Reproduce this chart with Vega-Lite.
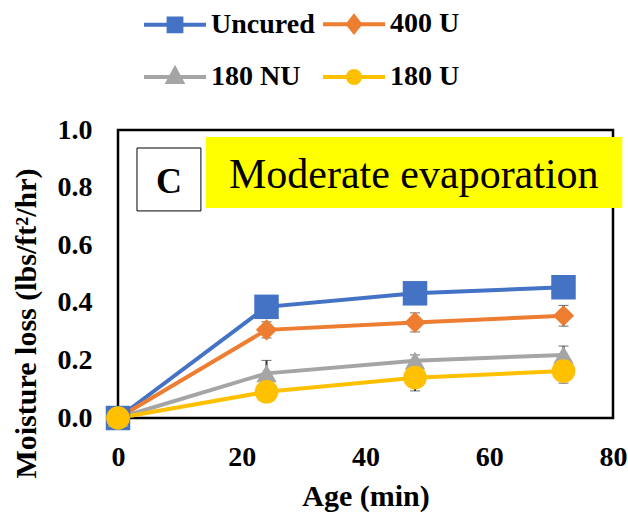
{
  "$schema": "https://vega.github.io/schema/vega-lite/v6.json",
  "width": 495,
  "height": 288,
  "autosize": {"type": "none"},
  "padding": {"left": 118, "top": 130, "right": 15, "bottom": 96},
  "background": "white",
  "config": {
    "view": {"stroke": "#000000", "strokeWidth": 2.5},
    "font": "Liberation Serif",
    "axis": {
      "grid": false, "domain": false, "ticks": false, "labelFlush": false,
      "labelFont": "Liberation Serif", "labelFontWeight": "bold", "labelFontSize": 28, "labelColor": "#000000",
      "titleFont": "Liberation Serif", "titleFontWeight": "bold", "titleFontSize": 30, "titleColor": "#000000"
    },
    "legend": {
      "labelFont": "Liberation Serif", "labelFontWeight": "bold", "labelFontSize": 28, "labelColor": "#000000",
      "symbolSize": 1600, "symbolStrokeWidth": 4, "symbolOffset": 11, "labelOffset": 14,
      "rowPadding": 15, "columnPadding": 0, "symbolOpacity": 1
    }
  },
  "data": {
    "values": [
      {"series": "Uncured", "age": 0, "loss": 0, "err": 0},
      {"series": "Uncured", "age": 24, "loss": 0.386, "err": 0.01},
      {"series": "Uncured", "age": 48, "loss": 0.433, "err": 0.01},
      {"series": "Uncured", "age": 72, "loss": 0.454, "err": 0.01},
      {"series": "400 U", "age": 0, "loss": 0, "err": 0},
      {"series": "400 U", "age": 24, "loss": 0.306, "err": 0.028},
      {"series": "400 U", "age": 48, "loss": 0.332, "err": 0.033},
      {"series": "400 U", "age": 72, "loss": 0.355, "err": 0.036},
      {"series": "180 NU", "age": 0, "loss": 0, "err": 0},
      {"series": "180 NU", "age": 24, "loss": 0.155, "err": 0.045},
      {"series": "180 NU", "age": 48, "loss": 0.199, "err": 0.02},
      {"series": "180 NU", "age": 72, "loss": 0.219, "err": 0.031},
      {"series": "180 U", "age": 0, "loss": 0, "err": 0},
      {"series": "180 U", "age": 24, "loss": 0.091, "err": 0.02},
      {"series": "180 U", "age": 48, "loss": 0.14, "err": 0.046},
      {"series": "180 U", "age": 72, "loss": 0.163, "err": 0.042}
    ]
  },
  "layer": [
    {
      "mark": {"type": "line", "strokeWidth": 4},
      "encoding": {
        "x": {"field": "age", "type": "quantitative", "scale": {"domain": [0, 80], "nice": false},
              "axis": {"values": [0, 20, 40, 60, 80], "format": "d", "labelPadding": 25, "titlePadding": 10}, "title": "Age (min)"},
        "y": {"field": "loss", "type": "quantitative", "scale": {"domain": [0, 1], "nice": false},
              "axis": {"values": [0, 0.2, 0.4, 0.6, 0.8, 1.0], "format": ".1f", "labelPadding": 26, "titlePadding": 16, "titleY": 193}, "title": "Moisture loss (lbs/ft²/hr)"},
        "color": {"field": "series", "type": "nominal",
                  "scale": {"domain": ["Uncured", "400 U", "180 NU", "180 U"], "range": ["#4472C4", "#ED7D31", "#A5A5A5", "#FFC000"]},
                  "legend": {"orient": "none", "legendX": 24, "legendY": -128, "columns": 2, "direction": "horizontal", "title": null}},
        "detail": {"field": "series"}
      }
    },
    {
      "mark": {"type": "errorbar", "ticks": {"size": 10, "color": "#333333", "strokeWidth": 2}, "rule": {"color": "#333333", "strokeWidth": 2}},
      "encoding": {
        "x": {"field": "age", "type": "quantitative", "title": "Age (min)"},
        "y": {"field": "loss", "type": "quantitative", "title": "Moisture loss (lbs/ft²/hr)"},
        "yError": {"field": "err"}
      }
    },
    {
      "mark": {"type": "point", "filled": true, "opacity": 1, "strokeWidth": 0},
      "encoding": {
        "x": {"field": "age", "type": "quantitative", "title": "Age (min)"},
        "y": {"field": "loss", "type": "quantitative", "title": "Moisture loss (lbs/ft²/hr)"},
        "color": {"field": "series", "type": "nominal", "legend": null},
        "shape": {"condition": [
          {"test": "datum.series === 'Uncured'", "value": "square"},
          {"test": "datum.series === '400 U'", "value": "diamond"},
          {"test": "datum.series === '180 NU'", "value": "triangle-up"}
        ], "value": "circle"},
        "size": {"condition": [
          {"test": "datum.series === 'Uncured'", "value": 600},
          {"test": "datum.series === '400 U'", "value": 450},
          {"test": "datum.series === '180 NU'", "value": 420}
        ], "value": 560}
      }
    },
    {
      "transform": [{"filter": "datum.age < 0"}],
      "mark": {"type": "point", "filled": true},
      "encoding": {
        "x": {"field": "age", "type": "quantitative", "title": "Age (min)"},
        "y": {"field": "loss", "type": "quantitative", "title": "Moisture loss (lbs/ft²/hr)"},
        "color": {"field": "series", "type": "nominal",
                  "legend": {"orient": "none", "legendX": 24, "legendY": -128, "columns": 2, "direction": "horizontal", "title": null}},
        "stroke": {"field": "series", "type": "nominal",
                   "scale": {"domain": ["Uncured", "400 U", "180 NU", "180 U"], "range": ["#4472C4", "#ED7D31", "#A5A5A5", "#FFC000"]},
                   "legend": {"orient": "none", "legendX": 24, "legendY": -128, "columns": 2, "direction": "horizontal", "title": null}},
        "shape": {"field": "series", "type": "nominal",
                  "scale": {"domain": ["Uncured", "400 U", "180 NU", "180 U"],
                            "range": [
                              "M-1.55,0H1.55M-0.32,-0.32H0.32V0.32H-0.32Z",
                              "M-1.55,0H1.55M0,-0.38L0.3,0L0,0.38L-0.3,0Z",
                              "M-1.55,0H1.55M0,-0.4L0.35,0.25H-0.35Z",
                              "M-1.55,0H1.55M0.3,0A0.3,0.3,0,1,1,-0.3,0A0.3,0.3,0,1,1,0.3,0Z"
                            ]},
                  "legend": {"orient": "none", "legendX": 24, "legendY": -128, "columns": 2, "direction": "horizontal", "title": null}}
      }
    },
    {
      "data": {"values": [{}]},
      "mark": {"type": "rect", "color": "#FFFF00", "clip": false},
      "encoding": {
        "x": {"datum": 14.2, "type": "quantitative"},
        "x2": {"datum": 81.5},
        "y": {"datum": 0.976, "type": "quantitative"},
        "y2": {"datum": 0.729}
      }
    },
    {
      "data": {"values": [{}]},
      "mark": {"type": "rect", "fill": "#FFFFFF", "stroke": "#000000", "strokeWidth": 1},
      "encoding": {
        "x": {"datum": 3.07, "type": "quantitative"},
        "x2": {"datum": 13.4},
        "y": {"datum": 0.9375, "type": "quantitative"},
        "y2": {"datum": 0.719}
      }
    },
    {
      "data": {"values": [{}]},
      "mark": {"type": "text", "text": "Moderate evaporation", "font": "Liberation Serif", "fontSize": 42, "color": "#000000", "align": "center", "baseline": "alphabetic"},
      "encoding": {
        "x": {"datum": 47.8, "type": "quantitative"},
        "y": {"datum": 0.799, "type": "quantitative"}
      }
    },
    {
      "data": {"values": [{}]},
      "mark": {"type": "text", "text": "C", "font": "Liberation Serif", "fontWeight": "bold", "fontSize": 36, "color": "#000000", "align": "center", "baseline": "alphabetic"},
      "encoding": {
        "x": {"datum": 8.24, "type": "quantitative"},
        "y": {"datum": 0.781, "type": "quantitative"}
      }
    }
  ]
}
